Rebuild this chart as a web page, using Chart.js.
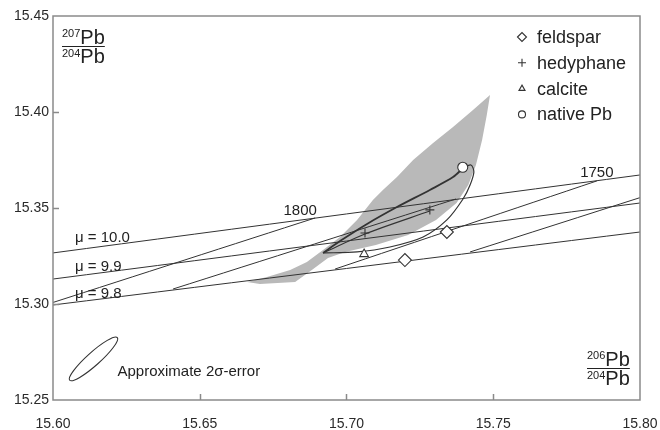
<!DOCTYPE html>
<html>
<head>
<meta charset="utf-8">
<script src="https://cdn.jsdelivr.net/npm/chart.js@4.4.1/dist/chart.umd.min.js"></script>
<style>
html, body { margin: 0; padding: 0; background: #fff; }
#wrap { width: 660px; height: 430px; }
</style>
</head>
<body>
<div id="wrap"><canvas id="c" width="660" height="430"></canvas></div>
<script>
// axis ticks
const xTicks = [15.60, 15.65, 15.70, 15.75, 15.80]
const yTicks = [15.25, 15.30, 15.35, 15.40, 15.45]

// growth curves (206Pb/204Pb, 207Pb/204Pb)
const mu98 = [[15.60, 15.2995], [15.80, 15.3375]]
const mu99 = [[15.60, 15.3130], [15.80, 15.3526]]
const mu100 = [[15.60, 15.3266], [15.80, 15.3672]]

// isochrons
const iso1800 = [[15.60, 15.3008], [15.6893, 15.3448]]
const iso1775 = [[15.6409, 15.3078], [15.7373, 15.3547]]
const iso1750 = [[15.6961, 15.3182], [15.7853, 15.3641]]
const iso1725 = [[15.7421, 15.3271], [15.80, 15.3554]]

// grey field
const greyField = [
    [15.6661, 15.3115], [15.6729, 15.3141], [15.6808, 15.3177], [15.6865, 15.3219],
    [15.6920, 15.3281], [15.6978, 15.3349], [15.7036, 15.3438], [15.7090, 15.3542],
    [15.7124, 15.3594], [15.7172, 15.3661], [15.7227, 15.3750], [15.7295, 15.3839],
    [15.7363, 15.3922], [15.7431, 15.4010], [15.7489, 15.4089], [15.7478, 15.3984],
    [15.7462, 15.3854], [15.7441, 15.3724], [15.7415, 15.3620], [15.7375, 15.3526],
    [15.7305, 15.3438], [15.7210, 15.3359], [15.7100, 15.3307], [15.6995, 15.3271],
    [15.6937, 15.3240], [15.6882, 15.3177], [15.6825, 15.3115], [15.6705, 15.3104],
    [15.6661, 15.3115]
]

// envelope around the mineral data
const loopUpper = [
    [15.6920, 15.3266], [15.6978, 15.3328], [15.7070, 15.3417], [15.7172, 15.3505],
    [15.7284, 15.3594], [15.7363, 15.3661], [15.7397, 15.3708]
]
const loopLower = [
    [15.7397, 15.3708], [15.7424, 15.3724], [15.7434, 15.3688], [15.7421, 15.3620],
    [15.7397, 15.3547], [15.7342, 15.3438], [15.7261, 15.3349], [15.7148, 15.3297],
    [15.7036, 15.3271], [15.6920, 15.3266]
]
const loopInner = [[15.6927, 15.3271], [15.7063, 15.3365], [15.7284, 15.3484]]

// samples
const feldspar = [[15.7342, 15.3375], [15.7199, 15.3229]]
const hedyphane = [[15.7284, 15.3490], [15.7063, 15.3370]]
const calcite = [[15.7060, 15.3260]]
const nativePb = [[15.7396, 15.3712]]

// text labels anchored in data units
const muLabels = [["μ = 10.0", 15.6075, 15.3344], ["μ = 9.9", 15.6075, 15.3193], ["μ = 9.8", 15.6075, 15.3052]]
const ageLabels = [["1800", 15.6842, 15.3484], ["1750", 15.7853, 15.3682]]
const errorEllipse = [15.6138, 15.2714]

const FONT = "'Liberation Sans', Arial, Helvetica, sans-serif"
const INK = "#333"

const pts = arr => arr.map(p => ({ x: p[0], y: p[1] }))

function lineSet(arr, width, order) {
    return {
        data: pts(arr), showLine: true, borderColor: INK, borderWidth: width,
        pointRadius: 0, fill: false, order: order
    }
}

function markerSet(label, arr, style, radius) {
    return {
        label, data: pts(arr), showLine: false, pointStyle: style, pointRadius: radius,
        pointBackgroundColor: "#fff", pointBorderColor: "#333", pointBorderWidth: 1.1, order: 0
    }
}

const legendItems = [
    ["feldspar", "rectRot", 4.5],
    ["hedyphane", "cross", 4],
    ["calcite", "triangle", 3.5],
    ["native Pb", "circle", 3.5]
]

function fraction(ctx, x0, yLine, sup1, sup2) {
    ctx.font = "11px " + FONT
    const w1 = ctx.measureText(sup1).width
    ctx.fillText(sup1, x0, yLine - 9)
    ctx.fillText(sup2, x0, yLine + 11)
    ctx.font = "20px " + FONT
    const w2 = ctx.measureText("Pb").width
    ctx.fillText("Pb", x0 + w1, yLine - 2)
    ctx.fillText("Pb", x0 + w1, yLine + 17)
    ctx.beginPath()
    ctx.lineWidth = 1.2
    ctx.moveTo(x0, yLine + 0.5)
    ctx.lineTo(x0 + w1 + w2, yLine + 0.5)
    ctx.stroke()
}

const decor = {
    id: "decor",
    afterDatasetsDraw(chart) {
        const { ctx, chartArea: a, scales: { x, y } } = chart
        ctx.save()

        // frame
        ctx.strokeStyle = "#8a8a8a"
        ctx.lineWidth = 1.5
        ctx.strokeRect(a.left, a.top, a.right - a.left, a.bottom - a.top)

        // inward ticks
        ctx.beginPath()
        xTicks.slice(1, -1).forEach(v => {
            const px = Math.round(x.getPixelForValue(v)) + 0.5
            ctx.moveTo(px, a.bottom)
            ctx.lineTo(px, a.bottom - 6)
        })
        yTicks.slice(1, -1).forEach(v => {
            const py = Math.round(y.getPixelForValue(v)) + 0.5
            ctx.moveTo(a.left, py)
            ctx.lineTo(a.left + 6, py)
        })
        ctx.stroke()

        ctx.fillStyle = "#222"
        ctx.strokeStyle = "#222"
        ctx.textBaseline = "middle"

        // mu labels
        ctx.font = "15px " + FONT
        ctx.textAlign = "left"
        muLabels.forEach(l => ctx.fillText(l[0], x.getPixelForValue(l[1]), y.getPixelForValue(l[2])))

        // age labels
        ctx.textAlign = "center"
        ageLabels.forEach(l => ctx.fillText(l[0], x.getPixelForValue(l[1]), y.getPixelForValue(l[2])))

        // error ellipse
        const ex = x.getPixelForValue(errorEllipse[0])
        const ey = y.getPixelForValue(errorEllipse[1])
        ctx.beginPath()
        ctx.lineWidth = 1.1
        ctx.strokeStyle = INK
        ctx.ellipse(ex, ey, 32, 6.5, -0.73, 0, Math.PI * 2)
        ctx.stroke()
        ctx.textAlign = "left"
        ctx.font = "15px " + FONT
        ctx.fillText("Approximate 2σ-error", ex + 24, ey + 13)

        // legend
        legendItems.forEach((item, i) => {
            const ly = a.top + 21 + i * 25.8
            ctx.fillStyle = "#fff"
            ctx.strokeStyle = "#333"
            ctx.lineWidth = 1.1
            Chart.helpers.drawPoint(ctx, { pointStyle: item[1], radius: item[2], rotation: 0, borderWidth: 1.1 }, 522, ly)
            ctx.fillStyle = "#222"
            ctx.font = "18px " + FONT
            ctx.textAlign = "left"
            ctx.fillText(item[0], 537, ly + 1)
        })

        // axis titles as fractions
        ctx.textAlign = "left"
        ctx.textBaseline = "alphabetic"
        ctx.fillStyle = "#222"
        ctx.strokeStyle = "#222"
        fraction(ctx, a.left + 9, a.top + 30, "207", "204")
        fraction(ctx, a.right - 53, a.bottom - 32, "206", "204")

        ctx.restore()
    }
}

new Chart(document.getElementById("c"), {
    type: "line",
    data: {
        datasets: [
            markerSet("feldspar", feldspar, "rectRot", 6.5),
            markerSet("hedyphane", hedyphane, "cross", 4.5),
            markerSet("calcite", calcite, "triangle", 5),
            markerSet("native Pb", nativePb, "circle", 5),
            lineSet(loopUpper, 1.8, 1),
            lineSet(loopLower, 1.2, 1),
            lineSet(loopInner, 1.1, 1),
            lineSet(mu98, 1, 2),
            lineSet(mu99, 1, 2),
            lineSet(mu100, 1, 2),
            lineSet(iso1800, 1, 2),
            lineSet(iso1775, 1, 2),
            lineSet(iso1750, 1, 2),
            lineSet(iso1725, 1, 2),
            {
                data: pts(greyField), showLine: true, borderWidth: 0, borderColor: "rgba(0,0,0,0)",
                backgroundColor: "#b9b9b9", fill: "shape", pointRadius: 0, tension: 0, order: 3
            }
        ]
    },
    options: {
        responsive: false,
        devicePixelRatio: 1,
        animation: false,
        layout: { padding: { left: 0, top: 16, right: 20, bottom: 0 } },
        elements: { line: { tension: 0.3 } },
        plugins: { legend: { display: false }, tooltip: { enabled: false } },
        scales: {
            x: {
                type: "linear", min: 15.60, max: 15.80,
                afterBuildTicks: s => { s.ticks = xTicks.map(v => ({ value: v })) },
                afterFit: s => { s.height = 30; s.paddingLeft = 0; s.paddingRight = 0 },
                grid: { display: false, drawTicks: false },
                border: { display: false },
                ticks: { padding: 16, color: "#2a2a2a", font: { size: 14, family: FONT }, callback: v => v.toFixed(2), maxRotation: 0, autoSkip: false }
            },
            y: {
                type: "linear", min: 15.25, max: 15.45,
                afterBuildTicks: s => { s.ticks = yTicks.map(v => ({ value: v })) },
                afterFit: s => { s.width = 53; s.paddingTop = 0; s.paddingBottom = 0 },
                grid: { display: false, drawTicks: false },
                border: { display: false },
                ticks: { padding: 4, color: "#2a2a2a", font: { size: 14, family: FONT }, callback: v => v.toFixed(2), autoSkip: false }
            }
        }
    },
    plugins: [decor]
})
</script>
</body>
</html>
